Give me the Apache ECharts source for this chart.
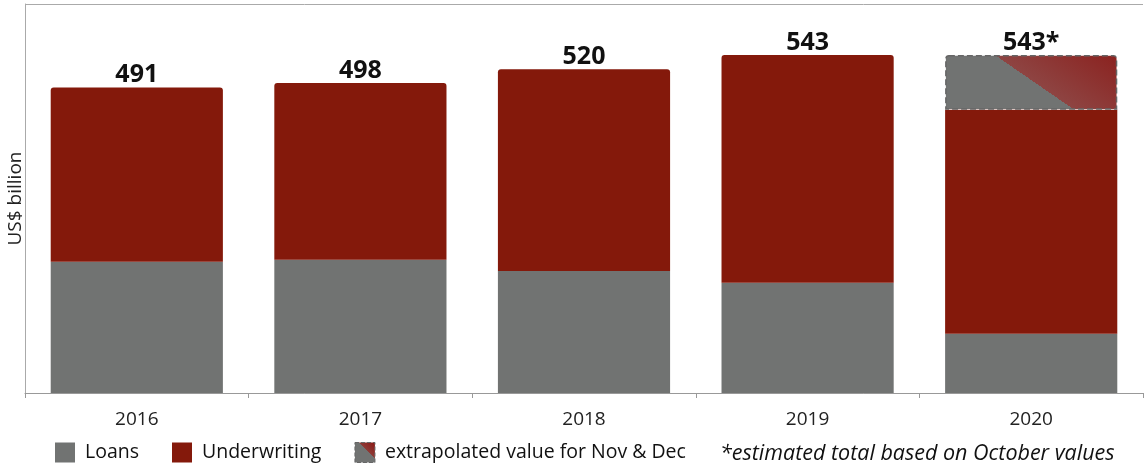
<!DOCTYPE html>
<html>
<head>
<meta charset="utf-8">
<script src="https://cdn.jsdelivr.net/npm/echarts@6/dist/echarts.min.js"></script>
<style>
  html, body { margin: 0; padding: 0; background: #fff; }
  #chart { width: 1145px; height: 466px; }
</style>
</head>
<body>
<div id="chart"></div>
<script>
// data (US$ billion)
var years = ['2016', '2017', '2018', '2019', '2020'];
var loans = [211, 214, 196, 177, 95];
var underwriting = [280, 284, 324, 366, 360];
var extrapolated = ['-', '-', '-', '-', 88];
var totalLabels = ['491', '498', '520', '543', '543*'];
var totalBase = [0, 0, 0, 0, 0];

var GREY = '#717372';
var RED = '#84190b';
var FONT = 'Open Sans';

// gray lower-left / red upper-right split of the extrapolated block
var extraFill = new echarts.graphic.LinearGradient(0.52, 0.5, 0.836, -0.94, [
    {offset: 0, color: GREY},
    {offset: 0, color: '#8e4442'},
    {offset: 1, color: '#8a1512'}
]);
var extraIcon = new echarts.graphic.LinearGradient(0, 1, 1, 0, [
    {offset: 0, color: GREY},
    {offset: 0.6, color: GREY},
    {offset: 0.6, color: '#8e3a36'},
    {offset: 1, color: '#8a1512'}
]);

function underwritingData() {
    var arr = [];
    for (var i = 0; i < underwriting.length; i++) {
        arr.push({
            value: underwriting[i],
            itemStyle: {borderRadius: extrapolated[i] === '-' ? [3, 3, 0, 0] : 0}
        });
    }
    return arr;
}

var option = {
    animation: false,
    textStyle: {fontFamily: FONT},
    grid: {left: 25, right: 2, top: 4, bottom: 73, outerBoundsMode: 'none'},
    legend: {
        left: 50,
        top: 437,
        itemWidth: 20,
        itemHeight: 20,
        itemGap: 33,
        textStyle: {fontFamily: FONT, fontSize: 19.5, color: '#111', padding: [0, 0, 0, 5]},
        data: [
            {name: 'Loans', icon: 'rect'},
            {name: 'Underwriting', icon: 'rect'},
            {name: 'extrapolated value for Nov & Dec', icon: 'rect',
             itemStyle: {color: extraIcon, borderType: 'dashed', borderColor: '#666', borderWidth: 1}}
        ]
    },
    graphic: [{
        type: 'text',
        left: 720,
        top: 443,
        style: {
            text: '*estimated total based on October values',
            font: 'italic 21.5px "Open Sans"',
            fill: '#111'
        }
    }],
    xAxis: {
        type: 'category',
        data: years,
        axisLine: {lineStyle: {color: '#999'}},
        axisTick: {show: true, length: 5, lineStyle: {color: '#999'}},
        axisLabel: {fontFamily: FONT, fontSize: 19, color: '#222', margin: 17}
    },
    yAxis: {
        type: 'value',
        min: 0,
        max: 625,
        interval: 625,
        name: 'US$ billion',
        nameLocation: 'middle',
        nameGap: 0,
        nameTextStyle: {fontFamily: FONT, fontSize: 19, color: '#222'},
        axisLine: {show: true, lineStyle: {color: '#aaa'}},
        axisTick: {show: false},
        axisLabel: {show: false},
        splitLine: {show: true, lineStyle: {color: '#aaa'}}
    },
    series: [
        {
            name: 'Loans',
            type: 'bar',
            stack: 'a',
            barCategoryGap: '23%',
            itemStyle: {color: GREY},
            data: loans
        },
        {
            name: 'Underwriting',
            type: 'bar',
            stack: 'a',
            itemStyle: {color: RED},
            data: underwritingData()
        },
        {
            name: 'extrapolated value for Nov & Dec',
            type: 'bar',
            stack: 'a',
            itemStyle: {
                color: extraFill,
                borderType: 'dashed',
                borderColor: '#666',
                borderWidth: 1.5,
                borderRadius: [3, 3, 0, 0]
            },
            data: extrapolated
        },
        {
            name: 'total',
            type: 'bar',
            stack: 'a',
            data: totalBase,
            label: {
                show: true,
                position: 'top',
                distance: 0,
                fontFamily: FONT,
                fontWeight: 'bold',
                fontSize: 25,
                color: '#111',
                formatter: function (p) { return totalLabels[p.dataIndex]; }
            }
        }
    ]
};

var chart = echarts.init(document.getElementById('chart'));
chart.setOption(option);
</script>
</body>
</html>
